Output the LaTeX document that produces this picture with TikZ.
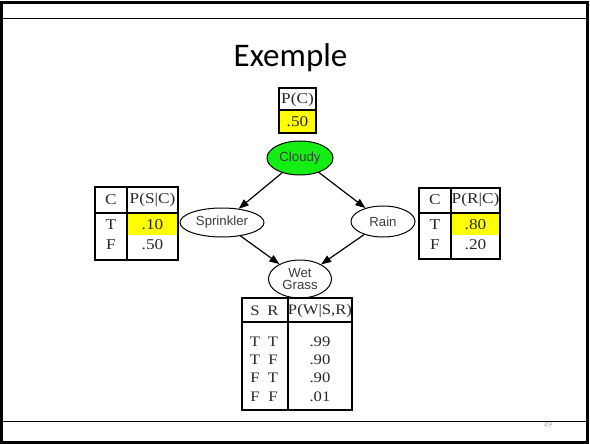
\documentclass[tikz,border=0pt]{standalone}
\usepackage{fontspec}
\setmainfont{Liberation Serif}
\newfontfamily\titlefont{Carlito}
\newfontfamily\varfont{Liberation Sans}
\newfontfamily\tabfont[FakeStretch=1.15]{Liberation Serif}
\usetikzlibrary{arrows.meta,shapes.geometric}
\definecolor{cptyellow}{RGB}{255,255,0}
\definecolor{cloudgreen}{RGB}{20,238,20}
\definecolor{tabtext}{RGB}{40,40,40}
\definecolor{vartext}{RGB}{60,60,60}
\definecolor{pagegray}{RGB}{170,170,170}
\tikzset{
  var/.style={ellipse, draw, line width=1pt, inner sep=0pt,
    font=\varfont\fontsize{13.2}{12}\selectfont, text=vartext, align=center},
  cell/.style={inner sep=0pt, text=tabtext, font=\tabfont\fontsize{15}{15}\selectfont},
  wcell/.style={inner sep=0pt, text=tabtext, font=\tabfont\fontsize{14.5}{15}\selectfont},
  frame/.style={draw, line width=1.1pt, inner sep=0pt},
  rule/.style={line width=1.1pt},
  headrule/.style={line width=1.6pt},
  link/.style={line width=1.2pt, -{Triangle[length=10pt,width=7.5pt]}},
}
\begin{document}
\begin{tikzpicture}[x=1pt,y=-1pt]
\useasboundingbox (0,0) rectangle (590,444);
% slide frame
\fill[white] (0,0) rectangle (590,444);
\draw[line width=3pt] (1.6,2.4) rectangle (587,442.6);
\draw[line width=1.1pt] (1.6,18.5) -- (587,18.5);
\draw[line width=1.1pt] (1.6,421.7) -- (587,421.7);
\node[anchor=base, inner sep=0pt, font=\titlefont\fontsize{33}{33}\selectfont] (title) at (290.5,66.7) {Exemple};
\node[inner sep=0pt, text=pagegray, font=\titlefont\fontsize{8}{8}\selectfont] (page) at (548,425) {49};

% network variables
\node[var, fill=cloudgreen, minimum width=66pt, minimum height=34pt] (cloudy) at (300,158) {Cloudy};
\node[var, minimum width=84pt, minimum height=29pt] (sprinkler) at (222,222.5) {Sprinkler};
\node[var, minimum width=64pt, minimum height=31pt] (rain) at (383,221.5) {Rain};
\node[var, minimum width=63pt, minimum height=38pt, font=\varfont\fontsize{13.2}{12.6}\selectfont] (wet) at (300,279) {Wet\\Grass};

\draw[link] (cloudy) -- (sprinkler);
\draw[link] (cloudy) -- (rain);
\draw[link] (sprinkler) -- (wet);
\draw[link] (rain) -- (wet);

% P(C)
\fill[cptyellow] (279,110) rectangle (316,133);
\node[frame, minimum width=37pt, minimum height=45pt] (tc) at (297.5,110.5) {};
\draw[rule] (279,110) -- (316,110);
\node[cell] (tch) at (297.5,99.5) {P(C)};
\node[cell] (tcv) at (297.5,122) {.50};

% P(S|C)
\fill[cptyellow] (128,214) rectangle (177.4,235);
\node[frame, minimum width=83pt, minimum height=73pt] (ts) at (136.5,223.5) {};
\draw[rule] (127,187) -- (127,260);
\draw[headrule] (95,213) -- (178,213);
\node[cell] (tsh1) at (111,200) {C};
\node[cell] (tsh2) at (152.5,200) {P(S|C)};
\node[cell] (tsa) at (111,225) {T};
\node[cell] (tsb) at (152.5,225) {.10};
\node[cell] (tsc) at (111,245) {F};
\node[cell] (tsd) at (152.5,245) {.50};

% P(R|C)
\fill[cptyellow] (452,214) rectangle (499.4,235);
\node[frame, minimum width=81pt, minimum height=71pt] (tr) at (459.5,223.5) {};
\draw[rule] (451,188) -- (451,259);
\draw[headrule] (419,213) -- (500,213);
\node[cell] (trh1) at (435,200) {C};
\node[cell] (trh2) at (475.5,200) {P(R|C)};
\node[cell] (tra) at (435,225) {T};
\node[cell] (trb) at (475.5,225) {.80};
\node[cell] (trc) at (435,245) {F};
\node[cell] (trd) at (475.5,245) {.20};

% P(W|S,R)
\node[frame, minimum width=110pt, minimum height=112pt] (tw) at (297,354) {};
\draw[rule] (288,298) -- (288,410);
\draw[headrule] (242,322) -- (352,322);
\node[wcell] (twh1) at (255,311) {S};
\node[wcell] (twh2) at (273,311) {R};
\node[wcell] (twh3) at (320,311) {P(W|S,R)};
\node[wcell] (tw11) at (255,342) {T};
\node[wcell] (tw12) at (273,342) {T};
\node[wcell] (tw13) at (320,342) {.99};
\node[wcell] (tw21) at (255,360) {T};
\node[wcell] (tw22) at (273,360) {F};
\node[wcell] (tw23) at (320,360) {.90};
\node[wcell] (tw31) at (255,378) {F};
\node[wcell] (tw32) at (273,378) {T};
\node[wcell] (tw33) at (320,378) {.90};
\node[wcell] (tw41) at (255,397) {F};
\node[wcell] (tw42) at (273,397) {F};
\node[wcell] (tw43) at (320,397) {.01};
\end{tikzpicture}
\end{document}
